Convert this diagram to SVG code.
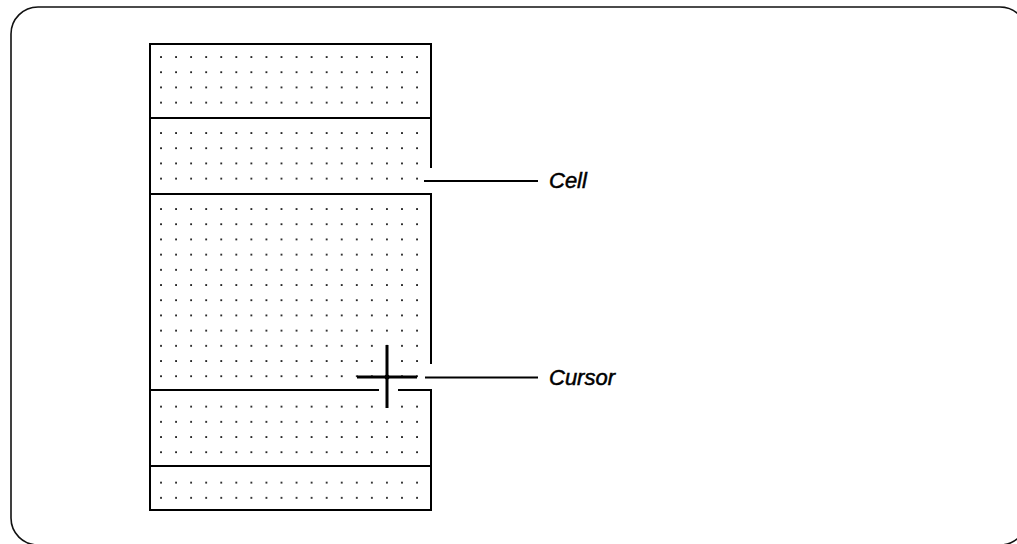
<svg xmlns="http://www.w3.org/2000/svg" width="1017" height="544" viewBox="0 0 1017 544">
<style>
.frame{fill:none;stroke:#111;stroke-width:1.6}
.ln{stroke:#000;stroke-width:2;fill:none;stroke-linecap:square}
.leader{stroke:#000;stroke-width:1.8;fill:none}
.cur{stroke:#000;stroke-width:3;fill:none}
.lbl{font-family:"Liberation Sans",Arial,sans-serif;font-style:italic;font-size:22px;fill:#000;stroke:#000;stroke-width:0.5}
.dots{fill:url(#dotgrid)}
</style>
<defs>
<pattern id="dotgrid" patternUnits="userSpaceOnUse" x="153.47" y="49.4" width="15.06" height="15.2">
<rect x="6.7" y="6.8" width="1.7" height="1.7" fill="#000"/>
</pattern>
</defs>
<rect class="frame" x="11" y="7" width="1016" height="538" rx="27" ry="27"/>
<g id="grid">
<rect class="dots" x="155" y="50" width="268" height="60"/>
<rect class="dots" x="155" y="125" width="268" height="60"/>
<rect class="dots" x="155" y="200" width="268" height="183"/>
<rect class="dots" x="155" y="398" width="268" height="62"/>
<rect class="dots" x="155" y="475" width="268" height="30"/>
<path class="ln" d="M150 44 H431 M150 44 V510 H431 M150 118 H431 M150 194 H431 M150 466 H431 M150 390 H378 M399 390 H431 M431 44 V167 M431 194 V363 M431 390 V510"/>
</g>
<g id="cursor">
<path class="cur" d="M387 345 V408 M357 377 H417"/>
<circle cx="387" cy="377" r="2.5" fill="#000"/>
</g>
<g id="connectors">
<line class="leader" x1="424" y1="181" x2="538" y2="181"/>
<line class="leader" x1="425" y1="377.5" x2="538" y2="377.5"/>
</g>
<g id="label-cell">
<text class="lbl" x="549" y="188">Cell</text>
</g>
<g id="label-cursor">
<text class="lbl" x="549" y="385">Cursor</text>
</g>
</svg>
